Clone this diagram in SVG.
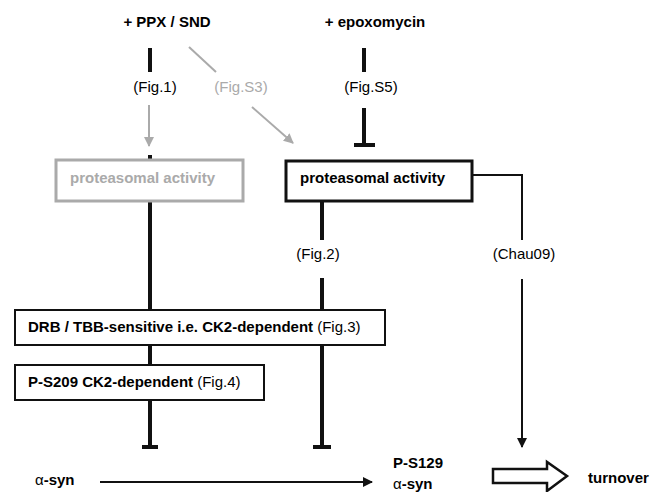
<svg xmlns="http://www.w3.org/2000/svg" width="664" height="492" viewBox="0 0 664 492">
<style>
text{font-family:"Liberation Sans",Arial,sans-serif;font-size:15px;fill:#000}
.b{font-weight:bold}
.g{fill:#aaaaaa}
.thick{stroke:#111;stroke-width:4;fill:none}
.thin{stroke:#111;stroke-width:2;fill:none}
.gl{stroke:#aaaaaa;stroke-width:2;fill:none}
</style>
<defs>
<marker id="ga" viewBox="0 0 10 10" refX="9" refY="5" markerWidth="5" markerHeight="5" orient="auto" markerUnits="strokeWidth"><path d="M0,0 L10,5 L0,10 z" fill="#aaaaaa"/></marker>
<marker id="ba" viewBox="0 0 10 10" refX="9" refY="5" markerWidth="5" markerHeight="5" orient="auto" markerUnits="strokeWidth"><path d="M0,0 L10,5 L0,10 z" fill="#111"/></marker>
</defs>
<rect width="664" height="492" fill="#fff"/>
<g id="connectors">
<line class="thick" x1="150" y1="48" x2="150" y2="72"/>
<line class="gl" x1="189" y1="47" x2="216" y2="72"/>
<line class="gl" x1="149" y1="105" x2="149" y2="146" marker-end="url(#ga)"/>
<line class="gl" x1="252" y1="107" x2="293" y2="143" marker-end="url(#ga)"/>
<line class="thick" x1="364" y1="48" x2="364" y2="72"/>
<line class="thick" x1="364" y1="108" x2="364" y2="145"/>
<line class="thick" x1="354" y1="145" x2="375" y2="145"/>
<line class="thick" x1="150" y1="155" x2="150" y2="160"/>
<line class="thick" x1="150" y1="201" x2="150" y2="447"/>
<line class="thick" x1="142" y1="447" x2="158" y2="447"/>
<line class="thick" x1="322" y1="201" x2="322" y2="240"/>
<line class="thick" x1="322" y1="278" x2="322" y2="447"/>
<line class="thick" x1="313" y1="447" x2="331" y2="447"/>
<polyline class="thin" points="472,175 522,175 522,240"/>
<line class="thin" x1="522" y1="279" x2="522" y2="447" marker-end="url(#ba)"/>
<line class="thin" x1="100" y1="482" x2="372" y2="482" marker-end="url(#ba)"/>
<polygon points="493,469 547,469 547,462 567,476 547,491 547,483 493,483" fill="#fff" stroke="#111" stroke-width="2.5" stroke-linejoin="miter"/>
</g>
<g id="labels">
<text class="b" x="167" y="27" text-anchor="middle">+ PPX / SND</text>
<text class="b" x="375" y="27" text-anchor="middle">+ epoxomycin</text>
<text x="155" y="92" text-anchor="middle">(Fig.1)</text>
<text class="g" x="241" y="92" text-anchor="middle">(Fig.S3)</text>
<text x="371" y="92" text-anchor="middle">(Fig.S5)</text>
<text x="318" y="259" text-anchor="middle">(Fig.2)</text>
<text x="524" y="259" text-anchor="middle">(Chau09)</text>
</g>
<g id="node-gray-proteasome">
<rect x="56" y="160" width="187" height="41" fill="#fff" stroke="#aaaaaa" stroke-width="3"/>
<text class="b g" x="70" y="183">proteasomal activity</text>
</g>
<g id="node-proteasome">
<rect x="286" y="161" width="186" height="40" fill="#fff" stroke="#111" stroke-width="3"/>
<text class="b" x="300" y="183">proteasomal activity</text>
</g>
<g id="node-drb">
<rect x="15" y="310" width="370" height="35" fill="#fff" stroke="#111" stroke-width="2"/>
<text x="28" y="332"><tspan class="b">DRB / TBB-sensitive i.e. CK2-dependent</tspan> (Fig.3)</text>
</g>
<g id="node-ps209">
<rect x="15" y="365" width="249" height="35" fill="#fff" stroke="#111" stroke-width="2"/>
<text x="28" y="387"><tspan class="b">P-S209 CK2-dependent</tspan> (Fig.4)</text>
</g>
<g id="node-asyn">
<text x="35" y="485">α<tspan class="b">-syn</tspan></text>
</g>
<g id="node-ps129">
<text class="b" x="393" y="468">P-S129</text>
<text x="393" y="489">α<tspan class="b">-syn</tspan></text>
</g>
<g id="node-turnover">
<text class="b" x="588" y="483">turnover</text>
</g>
</svg>
